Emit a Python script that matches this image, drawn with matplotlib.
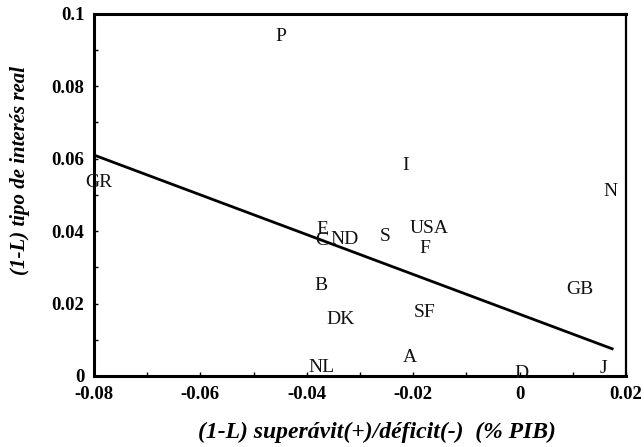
import matplotlib
matplotlib.use("Agg")
import matplotlib.pyplot as plt
from matplotlib.ticker import MultipleLocator

# country codes and their values
paises = ["P", "GR", "E", "C", "ND", "S", "USA", "F", "I", "N",
          "B", "DK", "SF", "GB", "NL", "A", "D", "J"]
superavit = [-0.0449, -0.0791, -0.0371, -0.0371, -0.0330, -0.0253, -0.0170, -0.0178, -0.0215, 0.0170,
             -0.0373, -0.0336, -0.0178, 0.0114, -0.0373, -0.0206, 0.0003, 0.0157]
interes = [0.0937, 0.0533, 0.0405, 0.0374, 0.0376, 0.0384, 0.0406, 0.0351, 0.0580, 0.0508,
           0.0249, 0.0157, 0.0174, 0.0238, 0.0022, 0.0050, 0.0006, 0.0020]

# fitted regression line
recta_x = [-0.08, 0.0174]
recta_y = [0.0610, 0.0075]

xticks = [-0.08, -0.06, -0.04, -0.02, 0, 0.02]
xtick_labels = ["-0.08", "-0.06", "-0.04", "-0.02", "0", "0.02"]
yticks = [0, 0.02, 0.04, 0.06, 0.08, 0.1]
ytick_labels = ["0", "0.02", "0.04", "0.06", "0.08", "0.1"]

plt.rcParams["font.family"] = ["Liberation Serif", "DejaVu Serif"]

fig = plt.figure(figsize=(6.44, 4.47), dpi=100)
ax = fig.add_axes([0.146, 0.159, 0.826, 0.810])

for nombre, x, y in zip(paises, superavit, interes):
    ax.text(x, y, nombre, ha="center", va="center", fontsize=14, color="#111111")

ax.plot(recta_x, recta_y, color="black", lw=2)

ax.set_xlim(-0.08, 0.02)
ax.set_ylim(0, 0.1)
ax.set_xticks(xticks)
ax.set_xticklabels(xtick_labels)
ax.set_yticks(yticks)
ax.set_yticklabels(ytick_labels)
ax.xaxis.set_minor_locator(MultipleLocator(0.01))
ax.yaxis.set_minor_locator(MultipleLocator(0.01))
ax.tick_params(which="both", direction="in", length=3, width=1, labelsize=13.5, pad=7)
for lab in ax.get_xticklabels() + ax.get_yticklabels():
    lab.set_fontweight("bold")

for lado in ["left", "bottom", "top"]:
    ax.spines[lado].set_linewidth(2.2)
ax.spines["right"].set_linewidth(1.6)

ax.set_xlabel("(1-L) superávit(+)/déficit(-)  (% PIB)", fontsize=17, style="italic",
              fontweight="bold", va="center")
ax.set_ylabel("(1-L) tipo de interés real", fontsize=15, style="italic",
              fontweight="bold", va="center")
ax.xaxis.set_label_coords(0.532, -0.155)
ax.yaxis.set_label_coords(-0.139, 0.566)

fig.savefig("out.png", dpi=100)
